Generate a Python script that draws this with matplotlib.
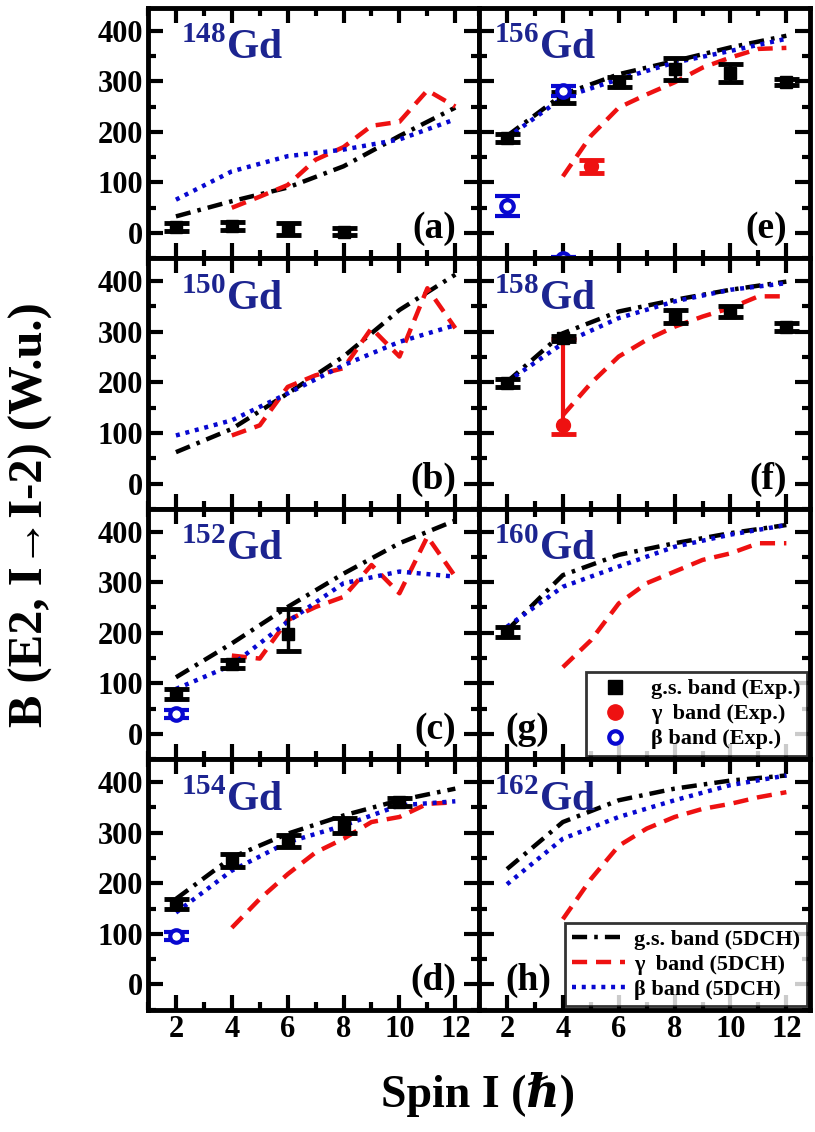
import numpy as np
import matplotlib.pyplot as plt
from matplotlib.lines import Line2D

plt.rcParams['font.family'] = ['Liberation Serif', 'DejaVu Serif']
plt.rcParams['font.weight'] = 'bold'
plt.rcParams['mathtext.fontset'] = 'custom'
plt.rcParams['mathtext.rm'] = 'Liberation Serif:bold'
plt.rcParams['mathtext.bf'] = 'Liberation Serif:bold'

# spins
even_spins = [2, 4, 6, 8, 10, 12]
gam_spins = [4, 5, 6, 7, 8, 9, 10, 11, 12]

isotopes = ['148', '156', '150', '158', '152', '160', '154', '162']
letters = ['(a)', '(e)', '(b)', '(f)', '(c)', '(g)', '(d)', '(h)']

# 5DCH B(E2) values (W.u.)
gs_5dch = {
    '148': [33, 63, 90, 132, 192, 248],
    '150': [62, 108, 178, 251, 343, 413],
    '152': [112, 179, 251, 317, 377, 422],
    '154': [169, 251, 298, 334, 364, 387],
    '156': [192, 274, 314, 340, 367, 390],
    '158': [201, 297, 340, 363, 383, 399],
    '160': [205, 314, 354, 377, 397, 413],
    '162': [228, 321, 364, 387, 403, 413],
}
beta_5dch = {
    '148': [66, 122, 152, 165, 185, 225],
    '150': [95, 125, 178, 234, 280, 313],
    '152': [89, 136, 222, 298, 321, 311],
    '154': [142, 225, 281, 314, 354, 362],
    '156': [188, 268, 304, 337, 360, 384],
    '158': [201, 277, 327, 360, 383, 396],
    '160': [212, 291, 331, 370, 394, 413],
    '162': [198, 288, 331, 364, 394, 413],
}
gam_5dch = {
    '148': [50, 72, 95, 145, 170, 212, 220, 282, 250],
    '150': [95, 115, 191, 214, 228, 307, 251, 386, 307],
    '152': [155, 149, 225, 251, 271, 334, 278, 390, 311],
    '154': [112, 169, 218, 261, 288, 321, 331, 357, 360],
    '156': [112, 192, 248, 274, 298, 327, 347, 364, 366],
    '158': [135, 198, 251, 284, 310, 330, 347, 370, 370],
    '160': [132, 185, 258, 298, 321, 344, 357, 377, 377],
    '162': [129, 208, 274, 308, 331, 347, 357, 370, 380],
}

# experimental values: (spins, values, lower err, upper err)
gs_exp = {
    '148': ([2, 4, 6, 8], [12, 14, 8, 3], [8, 8, 12, 7], [8, 8, 12, 7]),
    '152': ([2, 4, 6], [79, 139, 198], [10, 8, 33], [10, 8, 50]),
    '154': ([2, 4, 6, 8, 10], [159, 245, 284, 314, 360], [10, 12, 12, 15, 8], [10, 12, 12, 15, 8]),
    '156': ([2, 4, 6, 8, 10, 12], [188, 268, 298, 324, 317, 298], [8, 10, 10, 22, 18, 6], [8, 10, 10, 22, 18, 6]),
    '158': ([2, 4, 8, 10, 12], [198, 287, 330, 340, 310], [8, 5, 12, 10, 8], [8, 5, 12, 10, 8]),
    '160': ([2], [202], [10], [10]),
}
gam_exp = {
    '156': ([5], [132], [13], [13]),
    '158': ([4], [115], [17], [170]),
}
beta_exp = {
    '152': ([2], [40], [8], [8]),
    '154': ([2], [96], [8], [8]),
    '156': ([2, 4, 4], [53, 281, -52], [20, 10, 4], [20, 10, 4]),
}

red = '#ee1111'
blue = '#0808d0'
navy = '#1c2490'

gs_ls = (0, (3.4, 1.6, 0.8, 1.6))
gam_ls = (0, (3.4, 2.0))
beta_ls = (0, (0.9, 1.3))

fig, axes = plt.subplots(4, 2, figsize=(8.15, 11.32), dpi=100, sharex=True, sharey=True)
fig.subplots_adjust(left=0.1816, right=0.994, top=0.993, bottom=0.108, wspace=0, hspace=0)

for k, ax in enumerate(axes.flat):
    iso = isotopes[k]
    ax.plot(even_spins, gs_5dch[iso], color='black', lw=3.2, ls=gs_ls, zorder=2)
    ax.plot(gam_spins, gam_5dch[iso], color=red, lw=3.2, ls=gam_ls, zorder=2)
    ax.plot(even_spins, beta_5dch[iso], color=blue, lw=3.2, ls=beta_ls, zorder=2)

    if iso in gs_exp:
        s, v, lo, hi = gs_exp[iso]
        ax.errorbar(s, v, yerr=[lo, hi], fmt='s', color='black', ms=9, capsize=9,
                    elinewidth=2.5, capthick=3.5, zorder=4)
    if iso in gam_exp:
        s, v, lo, hi = gam_exp[iso]
        ax.errorbar(s, v, yerr=[lo, hi], fmt='o', color=red, ms=10, capsize=9,
                    elinewidth=3, capthick=3.5, zorder=3)
    if iso in beta_exp:
        s, v, lo, hi = beta_exp[iso]
        ax.errorbar(s, v, yerr=[lo, hi], fmt='o', color=blue, mfc='white', mec=blue, mew=3,
                    ms=9, capsize=9, elinewidth=2.5, capthick=3.5, zorder=4, clip_on=False)

    ax.set_xlim(1.0, 12.85)
    ax.set_ylim(-50, 445)
    ax.set_xticks(even_spins)
    ax.set_xticks(range(1, 13), minor=True)
    ax.set_yticks([0, 100, 200, 300, 400])
    ax.set_yticks(range(-50, 445, 50), minor=True)
    ax.tick_params(which='both', direction='in', top=True, right=True, width=3, labelsize=22)
    ax.tick_params(which='major', length=11)
    ax.tick_params(which='minor', length=6)
    for sp in ax.spines.values():
        sp.set_linewidth(3.5)

    col = k % 2
    lx = 0.1 if col == 0 else 0.045
    ax.text(lx, 0.795, r'$^{%s}$Gd' % iso, transform=ax.transAxes, color=navy,
            fontsize=30, fontweight='bold')
    if iso in ('160', '162'):
        ax.text(0.08, 0.08, letters[k], transform=ax.transAxes, fontsize=27, fontweight='bold')
    else:
        ax.text(0.93, 0.08, letters[k], transform=ax.transAxes, fontsize=27,
                fontweight='bold', ha='right')

exp_handles = [
    Line2D([], [], marker='s', color='black', ls='none', ms=10),
    Line2D([], [], marker='o', color=red, ls='none', ms=11),
    Line2D([], [], marker='o', color=blue, mfc='white', mew=3, ls='none', ms=9),
]
leg = axes[2, 1].legend(exp_handles, ['g.s. band (Exp.)', '\u03b3  band (Exp.)', '\u03b2 band (Exp.)'],
                        loc='lower right', fontsize=16, frameon=True, fancybox=False,
                        edgecolor='black', borderaxespad=0.15, handletextpad=0.6,
                        labelspacing=0.2, borderpad=0.3)
leg.get_frame().set_linewidth(2)

th_handles = [
    Line2D([], [], color='black', lw=3.2, ls=gs_ls),
    Line2D([], [], color=red, lw=3.2, ls=gam_ls),
    Line2D([], [], color=blue, lw=3.2, ls=beta_ls),
]
leg2 = axes[3, 1].legend(th_handles, ['g.s. band (5DCH)', '\u03b3  band (5DCH)', '\u03b2 band (5DCH)'],
                         loc='lower right', fontsize=16, frameon=True, fancybox=False,
                         edgecolor='black', borderaxespad=0.15, handlelength=2.4,
                         handletextpad=0.4, labelspacing=0.2, borderpad=0.3)
leg2.get_frame().set_linewidth(2)

fig.text(0.038, 0.545, 'B (E2, I\u2192I-2) (W.u.)', rotation=90, ha='center', va='center',
         fontsize=35, fontweight='bold')
fig.text(0.587, 0.033, 'Spin I (\u210f)', ha='center', va='center', fontsize=33, fontweight='bold')

plt.savefig('out.png', dpi=100)
